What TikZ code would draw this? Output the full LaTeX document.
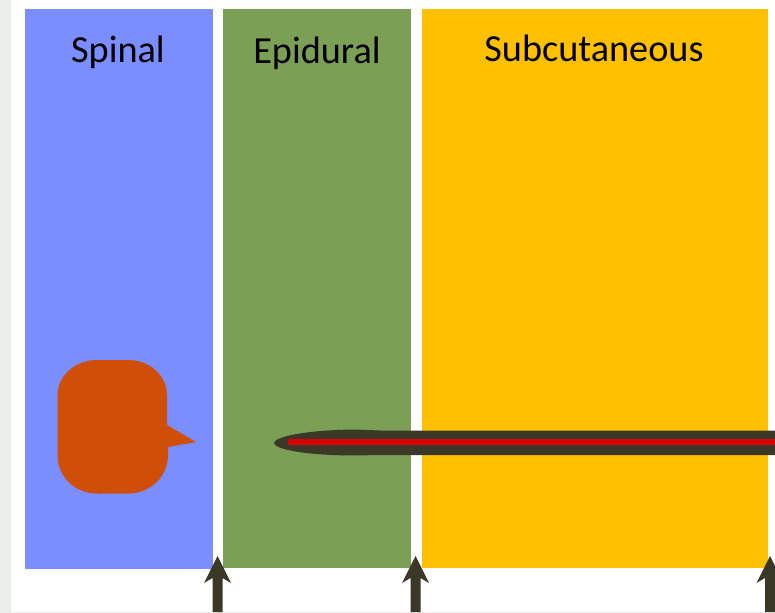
\documentclass[tikz,border=0pt]{standalone}
\usepackage{fontspec}
\setmainfont{Carlito}
\definecolor{spinalc}{HTML}{7A8EFF}
\definecolor{epic}{HTML}{7A9F55}
\definecolor{subc}{HTML}{FFC000}
\definecolor{bubblec}{HTML}{CF4E08}
\definecolor{darkc}{HTML}{3B3828}
\definecolor{redc}{HTML}{D90000}
\definecolor{edgec}{HTML}{ECEEEB}
\tikzset{
  paneltext/.style={font=\fontsize{28.7pt}{34pt}\selectfont,text=black,inner sep=0pt,anchor=base},
}
\newcommand{\uparrowshape}[1]{%
  \fill[darkc] (#1,612) -- ++(-5,0) -- ++(0,-34) -- ++(-8.5,5) -- ++(13.5,-27) -- ++(13.5,27) -- ++(-8.5,-5) -- ++(0,34) -- cycle;}
\begin{document}
\begin{tikzpicture}[x=0.75pt,y=-0.75pt]
\useasboundingbox (0,0) rectangle (775,613);
\fill[white] (0,0) rectangle (775,613);
\fill[edgec] (0,0) rectangle (11,613);
\fill[edgec] (11,612) rectangle (775,613);
\fill[spinalc] (25,9) rectangle (212.5,568.5);
\fill[epic] (223,9) rectangle (410.5,567.5);
\fill[subc] (422,9) rectangle (767.5,567.5);
\node[paneltext] (spinal) at (118,62.5) {Spinal};
\node[paneltext] (epidural) at (317,63.5) {Epidural};
\node[paneltext] (subcut) at (594,61.5) {Subcutaneous};
% bubble
\fill[bubblec] (97,360) -- (128,360) .. controls (150,360) and (167,376) .. (167,395)
  -- (167,425) -- (196,442) -- (168,447) -- (168,455)
  .. controls (168,477) and (150,493.5) .. (128,493.5) -- (97,493.5)
  .. controls (75,493.5) and (57.5,477) .. (57.5,455) -- (57.5,395)
  .. controls (57.5,376) and (75,360) .. (97,360) -- cycle;
% needle
\fill[darkc] (775,430.5) -- (380,430.5) -- (355,429.5)
  .. controls (305,430) and (274,437) .. (274,443)
  .. controls (274,449) and (305,455.5) .. (355,455.5)
  -- (380,455) -- (775,455) -- cycle;
\fill[redc] (288,438.5) rectangle (775,444.5);
% arrows
\uparrowshape{217.5}
\uparrowshape{415.5}
\uparrowshape{770}
\end{tikzpicture}
\end{document}
